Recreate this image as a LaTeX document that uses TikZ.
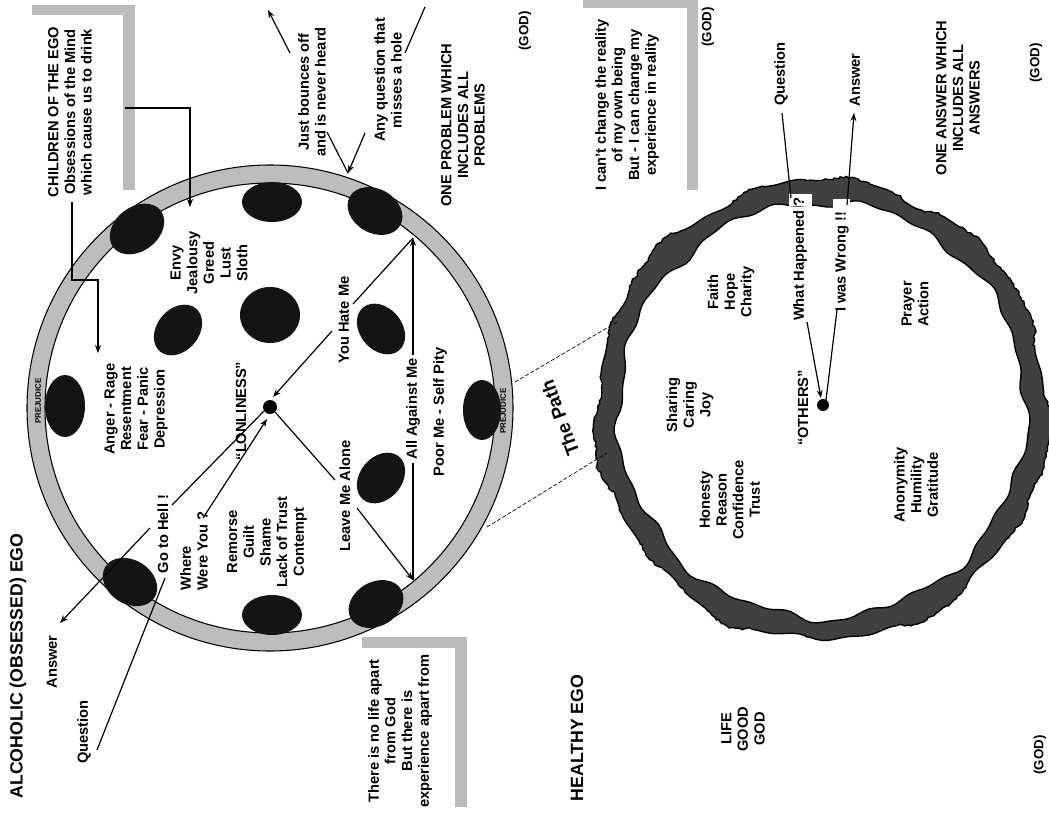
\documentclass[tikz,border=0pt]{standalone}
\usepackage{fontspec}
\setmainfont{Liberation Sans}
\usepackage{tikz}
\usetikzlibrary{arrows.meta,decorations.pathmorphing}
\definecolor{ringgray}{HTML}{BDBDBD}
\definecolor{bargray}{HTML}{BBBBBB}
\definecolor{pathgray}{HTML}{404040}
\definecolor{blob}{HTML}{141414}

\tikzset{
  txt/.style={rotate=90, align=center, inner sep=0pt, font=\bfseries\fontsize{11}{12.5}\selectfont},
  head/.style={rotate=90, inner sep=0pt, font=\bfseries\fontsize{13.3}{16}\selectfont},
  god/.style={rotate=90, inner sep=0pt, font=\bfseries\fontsize{10}{12}\selectfont},
  tag/.style={rotate=90, inner sep=0pt, font=\bfseries\fontsize{6}{7}\selectfont},
  conn/.style={line width=0.9pt},
  arr/.style={conn, -{Stealth[length=6pt,width=4.5pt]}},
}

\begin{document}
\begin{tikzpicture}[x=0.75pt, y=-0.75pt]
\useasboundingbox (0,0) rectangle (1049,818);
\fill[white] (0,0) rectangle (1049,818);
\pgfmathsetseed{11}

% Shadow bars of the text boxes
\fill[bargray] (32,5) rectangle (135,15);
\fill[bargray] (123,5) rectangle (135,190);
\fill[bargray] (362,637) rectangle (467,648);
\fill[bargray] (455,637) rectangle (467,807);
\fill[bargray] (583,0) rectangle (698,8);
\fill[bargray] (687,0) rectangle (698,190);

% Obsessed ego ring
\fill[ringgray, even odd rule] (270,408) circle [radius=243] (270,408) circle [radius=225];
\draw[line width=0.8pt] (270,408) circle [radius=243] (270,408) circle [radius=225];

% Dark blobs (holes)
\foreach \x/\y/\a/\b/\r in {65/406/20/31/0, 137/229/30/22/38, 272/202/30/20/0,
    375/211/29/22/-30, 178/330/28/21/50, 270/315/30/28/0, 381/329/28/21/-50,
    482/410/19/30/0, 381/478/28/21/50, 376/604/29/22/30, 272/615/30/20/0,
    130/582/29/22/-32} {
  \fill[blob, rotate around={\r:(\x,\y)}] (\x,\y) ellipse [x radius=\a, y radius=\b];
}
\node[tag] (prej1) at (38,401) {PREJUDICE};
\node[tag] (prej2) at (503,411) {PREJUDICE};

% Healthy ego ring (rough edge)
\fill[pathgray, even odd rule, draw=black, line width=1pt,
      decorate, decoration={random steps, segment length=3pt, amplitude=1.2pt}]
  plot[domain=0:360, samples=241, variable=\t]
    ({822+(226+3*sin(7*\t)+2.5*sin(13*\t+40)+1.5*sin(29*\t))*cos(\t)},
     {410+(230+3*sin(7*\t)+2.5*sin(13*\t+40)+1.5*sin(29*\t))*sin(\t)}) -- cycle
  plot[domain=0:360, samples=241, variable=\t]
    ({822+(204+3*sin(9*\t+20)+2*sin(17*\t)+1.5*sin(31*\t+70))*cos(\t)},
     {410+(208+3*sin(9*\t+20)+2*sin(17*\t)+1.5*sin(31*\t+70))*sin(\t)}) -- cycle;
\fill[white] (789,194) rectangle (812,206);
\fill[white] (833,199) rectangle (850,210);

% Titles
\node[head] (alco) at (18,666) {ALCOHOLIC (OBSESSED) EGO};
\node[head] (healthy) at (577,738) {HEALTHY EGO};

% Outside texts
\node[txt] (children) at (70,112) {CHILDREN OF THE EGO\\Obsessions of the Mind\\which cause us to drink};
\node[txt] (bounce) at (312,92) {Just bounces off\\and is never heard};
\node[txt] (anyq) at (388,80) {Any question that\\misses a hole};
\node[txt] (oneprob) at (463,125) {ONE PROBLEM WHICH\\INCLUDES ALL\\PROBLEMS};
\node[txt] (cant) at (627,105) {I can't change the reality\\of my own being\\But - I can change my\\experience in reality};
\node[txt] (nolife) at (400,731) {There is no life apart\\from God\\But there is\\experience apart from};
\node[txt] (answerL) at (52,662) {Answer};
\node[txt] (questionL) at (84,732) {Question};
\node[txt] (questionR) at (781,74) {Question};
\node[txt] (answerR) at (855,80) {Answer};
\node[txt] (oneans) at (958,98) {ONE ANSWER WHICH\\INCLUDES ALL\\ANSWERS};
\node[txt] (life) at (743,729) {LIFE\\GOOD\\GOD};
\node[god] (god1) at (525,31) {(GOD)};
\node[god] (god2) at (708,27) {(GOD)};
\node[god] (god3) at (1036,63) {(GOD)};
\node[god] (god4) at (1040,755) {(GOD)};
\node[rotate=110, inner sep=0pt, font=\bfseries\fontsize{14}{16}\selectfont] (path) at (560,418) {The Path};

% Texts inside the obsessed ego
\node[txt] (anger) at (136,409) {Anger - Rage\\Resentment\\Fear - Panic\\Depression};
\node[txt] (envy) at (209,263) {Envy\\Jealousy\\Greed\\Lust\\Sloth};
\node[txt] (lonely) at (241,411) {``LONLINESS''};
\node[txt] (hate) at (344,320) {You Hate Me};
\node[txt] (alone) at (345,496) {Leave Me Alone};
\node[txt] (against) at (413,409) {All Against Me};
\node[txt] (poor) at (440,412) {Poor Me - Self Pity};
\node[txt] (hell) at (163,534) {Go to Hell !};
\node[txt, align=left] (where) at (194,551) {Where\\Were You ?};
\node[txt] (remorse) at (267,542) {Remorse\\Guilt\\Shame\\Lack of Trust\\Contempt};

% Texts inside the healthy ego
\node[txt] (sharing) at (690,405) {Sharing\\Caring\\Joy};
\node[txt] (honesty) at (730,500) {Honesty\\Reason\\Confidence\\Trust};
\node[txt] (faith) at (731,292) {Faith\\Hope\\Charity};
\node[txt] (happened) at (800,259) {What Happened ?};
\node[txt] (wrong) at (842,262) {I was Wrong !!};
\node[txt] (others) at (803,408) {``OTHERS''};
\node[txt] (prayer) at (915,304) {Prayer\\Action};
\node[txt] (anon) at (916,485) {Anonymity\\Humility\\Gratitude};

% Centre points
\fill (270,407) circle [radius=7] coordinate (lon);
\fill (823,405) circle [radius=6] coordinate (oth);

% Children arrows
\coordinate (ch1) at (125,108);
\coordinate (ch2) at (190,207);
\coordinate (ch3) at (72,202);
\coordinate (ch4) at (98,353);
\draw[arr] (ch1) -| (ch2);
\draw[arr] (ch3) |- (98,280) -- (ch4);

% Question that misses a hole
\coordinate (q0) at (425,7);
\coordinate (q1) at (405,53);
\coordinate (q2) at (365,133);
\coordinate (hit) at (348,173);
\coordinate (b1) at (327,132);
\coordinate (b2) at (290,53);
\coordinate (b3) at (268,10);
\draw[conn] (q0) -- (q1);
\draw[arr] (q2) -- (hit);
\draw[conn] (hit) -- (b1);
\draw[arr] (b2) -- (b3);

% Question and answer through the hole
\coordinate (wq0) at (97,750);
\coordinate (wq1) at (165,578);
\coordinate (wq2) at (203,518);
\coordinate (lonw) at (267,419);
\draw[conn] (wq0) -- (wq1);
\draw[arr] (wq2) -- (lonw);
\coordinate (gh1) at (172,505);
\coordinate (gh2) at (150,528);
\coordinate (gh3) at (60,623);
\draw[conn] (264,411) -- (gh1);
\draw[arr] (gh2) -- (gh3);

% Cycle of self pity
\coordinate (top) at (413,238);
\coordinate (bot) at (413,580);
\coordinate (h1) at (353,304);
\coordinate (h2) at (332,331);
\coordinate (lonh) at (273,397);
\coordinate (a1) at (335,480);
\coordinate (a2) at (357,508);
\draw[conn] (h1) -- (top);
\draw[arr] (h2) -- (lonh);
\draw[conn] (275,412) -- (a1);
\draw[arr] (a2) -- (bot);
\draw[arr] (413,355) -- (top);
\draw[conn] (413,463) -- (bot);

% The path
\draw[line width=0.5pt, dash pattern=on 3pt off 1.5pt] (515,382) -- (617,322);
\draw[line width=0.5pt, dash pattern=on 3pt off 1.5pt] (487,527) -- (607,453);

% Healthy question and answer
\coordinate (hq0) at (782,113);
\coordinate (hq1) at (791,198);
\coordinate (hq2) at (807,322);
\coordinate (otq) at (821,398);
\draw[conn] (hq0) -- (hq1);
\draw[arr] (hq2) -- (otq);
\coordinate (ha1) at (837,310);
\coordinate (ha2) at (847,205);
\coordinate (ha3) at (854,113);
\draw[conn] (826,400) -- (ha1);
\draw[arr] (ha2) -- (ha3);

\end{tikzpicture}
\end{document}
